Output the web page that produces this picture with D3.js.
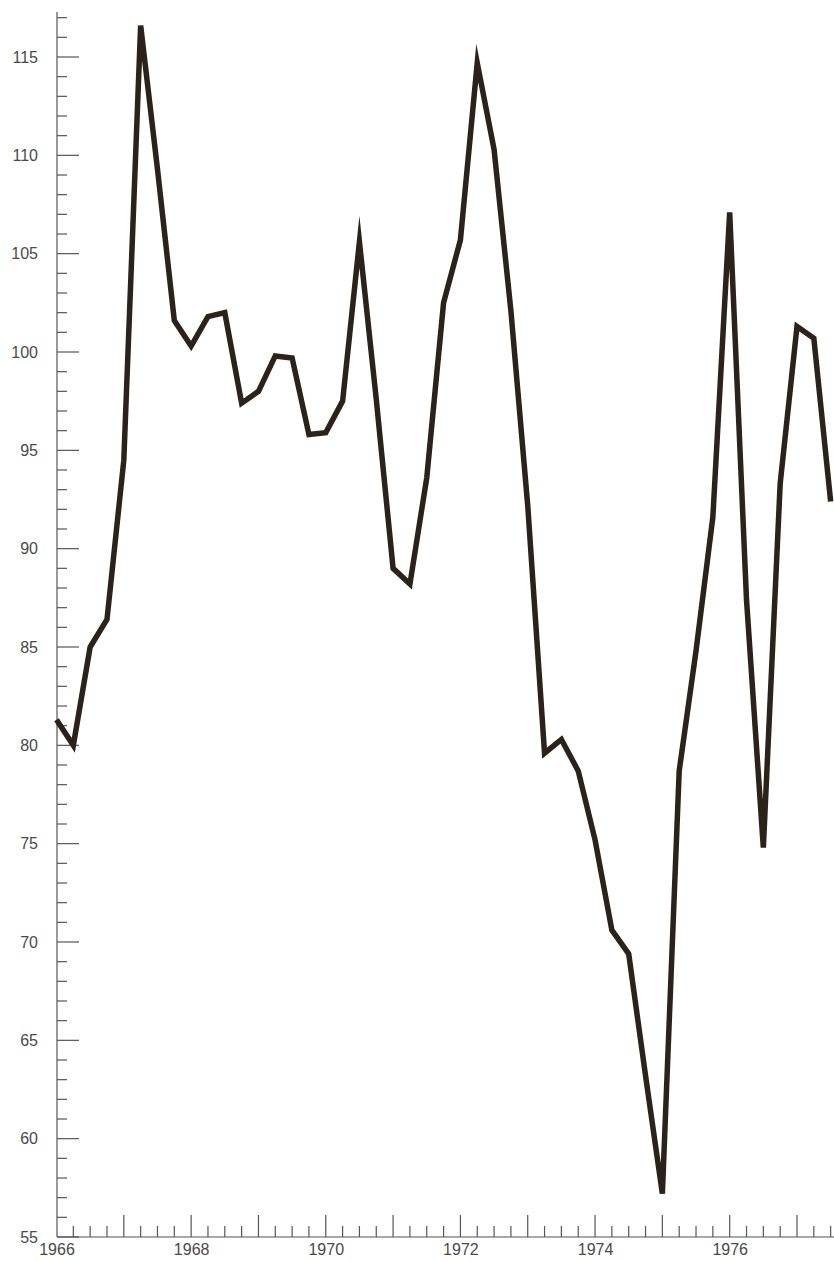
<!DOCTYPE html>
<html>
<head>
<meta charset="utf-8">
<script src="https://cdn.jsdelivr.net/npm/d3@7"></script>
<style>
  html, body { margin: 0; padding: 0; background: #fff; }
  svg { display: block; }
  .axis path, .axis line { stroke: #555; stroke-width: 1.2; }
  .axis text { fill: #4a4a4a; font-family: "Liberation Sans", Arial, sans-serif; font-size: 16px; }
</style>
</head>
<body>
<svg id="chart"></svg>
<script>
// quarters (decimal years), 1966 Q1 .. 1977 Q3
const quarters = [
  1966.00, 1966.25, 1966.50, 1966.75,
  1967.00, 1967.25, 1967.50, 1967.75,
  1968.00, 1968.25, 1968.50, 1968.75,
  1969.00, 1969.25, 1969.50, 1969.75,
  1970.00, 1970.25, 1970.50, 1970.75,
  1971.00, 1971.25, 1971.50, 1971.75,
  1972.00, 1972.25, 1972.50, 1972.75,
  1973.00, 1973.25, 1973.50, 1973.75,
  1974.00, 1974.25, 1974.50, 1974.75,
  1975.00, 1975.25, 1975.50, 1975.75,
  1976.00, 1976.25, 1976.50, 1976.75,
  1977.00, 1977.25, 1977.50
];
const values = [
  81.3, 80.0, 85.0, 86.4,
  94.5, 116.6, 109.3, 101.6,
  100.3, 101.8, 102.0, 97.4,
  98.0, 99.8, 99.7, 95.8,
  95.9, 97.5, 105.6, 97.6,
  89.0, 88.2, 93.6, 102.5,
  105.7, 114.7, 110.3, 102.1,
  92.2, 79.6, 80.3, 78.7,
  75.2, 70.6, 69.4, 63.2,
  57.2, 78.7, 84.8, 91.6,
  107.1, 87.4, 74.8, 93.3,
  101.3, 100.7, 92.4
];
const yearLabels = [1966, 1968, 1970, 1972, 1974, 1976];
const yLabels = [55, 60, 65, 70, 75, 80, 85, 90, 95, 100, 105, 110, 115];

const W = 834, H = 1261;
const axisX = 57, axisY = 1237;

const svg = d3.select('#chart').attr('width', W).attr('height', H);

const x = d3.scaleLinear().domain([1966, 1977]).range([56.5, 797]);
const y = d3.scaleLinear().domain([55, 115]).range([axisY, 57]);

const data = quarters.map((t, i) => ({ t: t, v: values[i] }));

// y axis: line, minor ticks every unit, longer every 5
const yMinor = d3.range(55, 118);
const yAxisG = svg.append('g').attr('class', 'axis').attr('transform', 'translate(' + axisX + ',0)');
yAxisG.append('line').attr('x1', 0).attr('x2', 0).attr('y1', 12).attr('y2', axisY);
yAxisG.selectAll('.ymin').data(yMinor).enter().append('line')
    .attr('x1', 0).attr('x2', d => d % 5 === 0 ? 22 : 10)
    .attr('y1', d => y(d)).attr('y2', d => y(d));

svg.append('g').attr('class', 'axis')
    .attr('transform', 'translate(' + (axisX - 19) + ',0)')
    .call(d3.axisLeft(y).tickValues(yLabels).tickSize(0).tickPadding(0))
    .call(g => g.select('.domain').remove());

// x axis: quarterly ticks pointing up, longer at each year
const xTicks = d3.range(0, 47).map(i => 1966 + i * 0.25);
const xAxisG = svg.append('g').attr('class', 'axis').attr('transform', 'translate(0,' + axisY + ')');
xAxisG.append('line').attr('x1', axisX).attr('x2', 834).attr('y1', 0).attr('y2', 0);
xAxisG.selectAll('.xmin').data(xTicks.slice(1)).enter().append('line')
    .attr('x1', d => x(d)).attr('x2', d => x(d))
    .attr('y1', 0).attr('y2', d => Number.isInteger(d) ? -22 : -11);

svg.append('g').attr('class', 'axis')
    .attr('transform', 'translate(0,' + axisY + ')')
    .call(d3.axisBottom(x).tickValues(yearLabels).tickFormat(d3.format('d')).tickSize(0).tickPadding(7))
    .call(g => g.select('.domain').remove());

// series
const line = d3.line().x(d => x(d.t)).y(d => y(d.v));
svg.append('path')
    .datum(data)
    .attr('d', line)
    .attr('fill', 'none')
    .attr('stroke', '#2b2219')
    .attr('stroke-width', 5.5)
    .attr('stroke-linejoin', 'miter')
    .attr('stroke-miterlimit', 10);
</script>
</body>
</html>
